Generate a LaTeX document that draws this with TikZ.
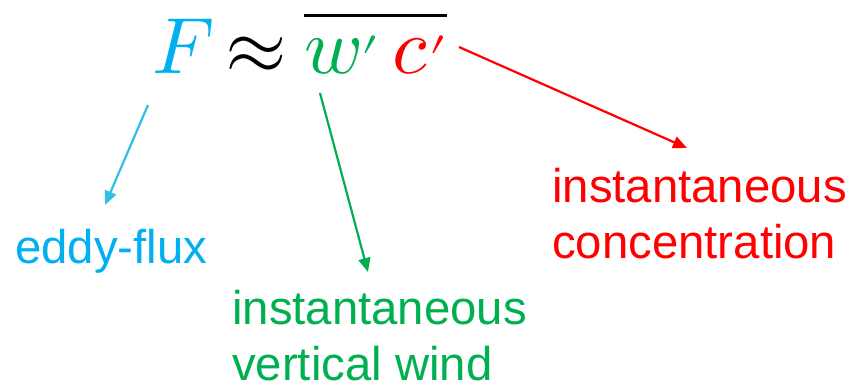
\documentclass[tikz,border=0pt]{standalone}
\usepackage{fontspec}
\usepackage{unicode-math}
\setmainfont{Liberation Sans}
\setmathfont{Latin Modern Math}
\usepackage{tikz}
\usetikzlibrary{arrows.meta, positioning}
\definecolor{skyblue}{HTML}{00B0F0}
\definecolor{arrowcyan}{HTML}{2DC1E3}
\definecolor{leafgreen}{HTML}{00B050}
\definecolor{brightred}{HTML}{FF0000}
\tikzset{every node/.style={inner sep=0pt}}
\newcommand{\lowprime}{\raisebox{-0.42em}{$'$}}

\begin{document}
\begin{tikzpicture}[x=1bp, y=-1bp,
    mathterm/.style={font=\fontsize{80}{88}\selectfont, anchor=base},
    labeltext/.style={font=\fontsize{47.5}{56}\selectfont, align=left, anchor=north west},
    pointer/.style={line width=2.2bp, -{Triangle[length=14bp,width=12bp]}}]
  \useasboundingbox (0,0) rectangle (854,388);
  % formula
  \node[mathterm, text=skyblue] (flux) at (183,73) {$F$};
  \node[mathterm] (approx) at (256,73) {$\approx$};
  \node[mathterm, anchor=base west] (cov) at (304,73)
    {$\overline{\rule{0pt}{0.58em}\textcolor{leafgreen}{w\lowprime}\,\textcolor{brightred}{c\lowprime}}$};
  % labels
  \node[labeltext, anchor=base west, text=skyblue] (eddy) at (15,263) {eddy-flux};
  \node[labeltext, text=leafgreen] (wind) at (232,290) {instantaneous\\vertical wind};
  \node[labeltext, text=brightred] (conc) at (552,168) {instantaneous\\concentration};
  % arrow ends
  \coordinate (fluxtail) at (148,105);
  \coordinate (fluxtip) at (105,205);
  \coordinate (windtail) at (320,93);
  \coordinate (windtip) at (368,272);
  \coordinate (conctail) at (459,47);
  \coordinate (conctip) at (687,148);
  \draw[pointer, arrowcyan] (fluxtail) -- (fluxtip);
  \draw[pointer, leafgreen] (windtail) -- (windtip);
  \draw[pointer, brightred] (conctail) -- (conctip);
\end{tikzpicture}
\end{document}
